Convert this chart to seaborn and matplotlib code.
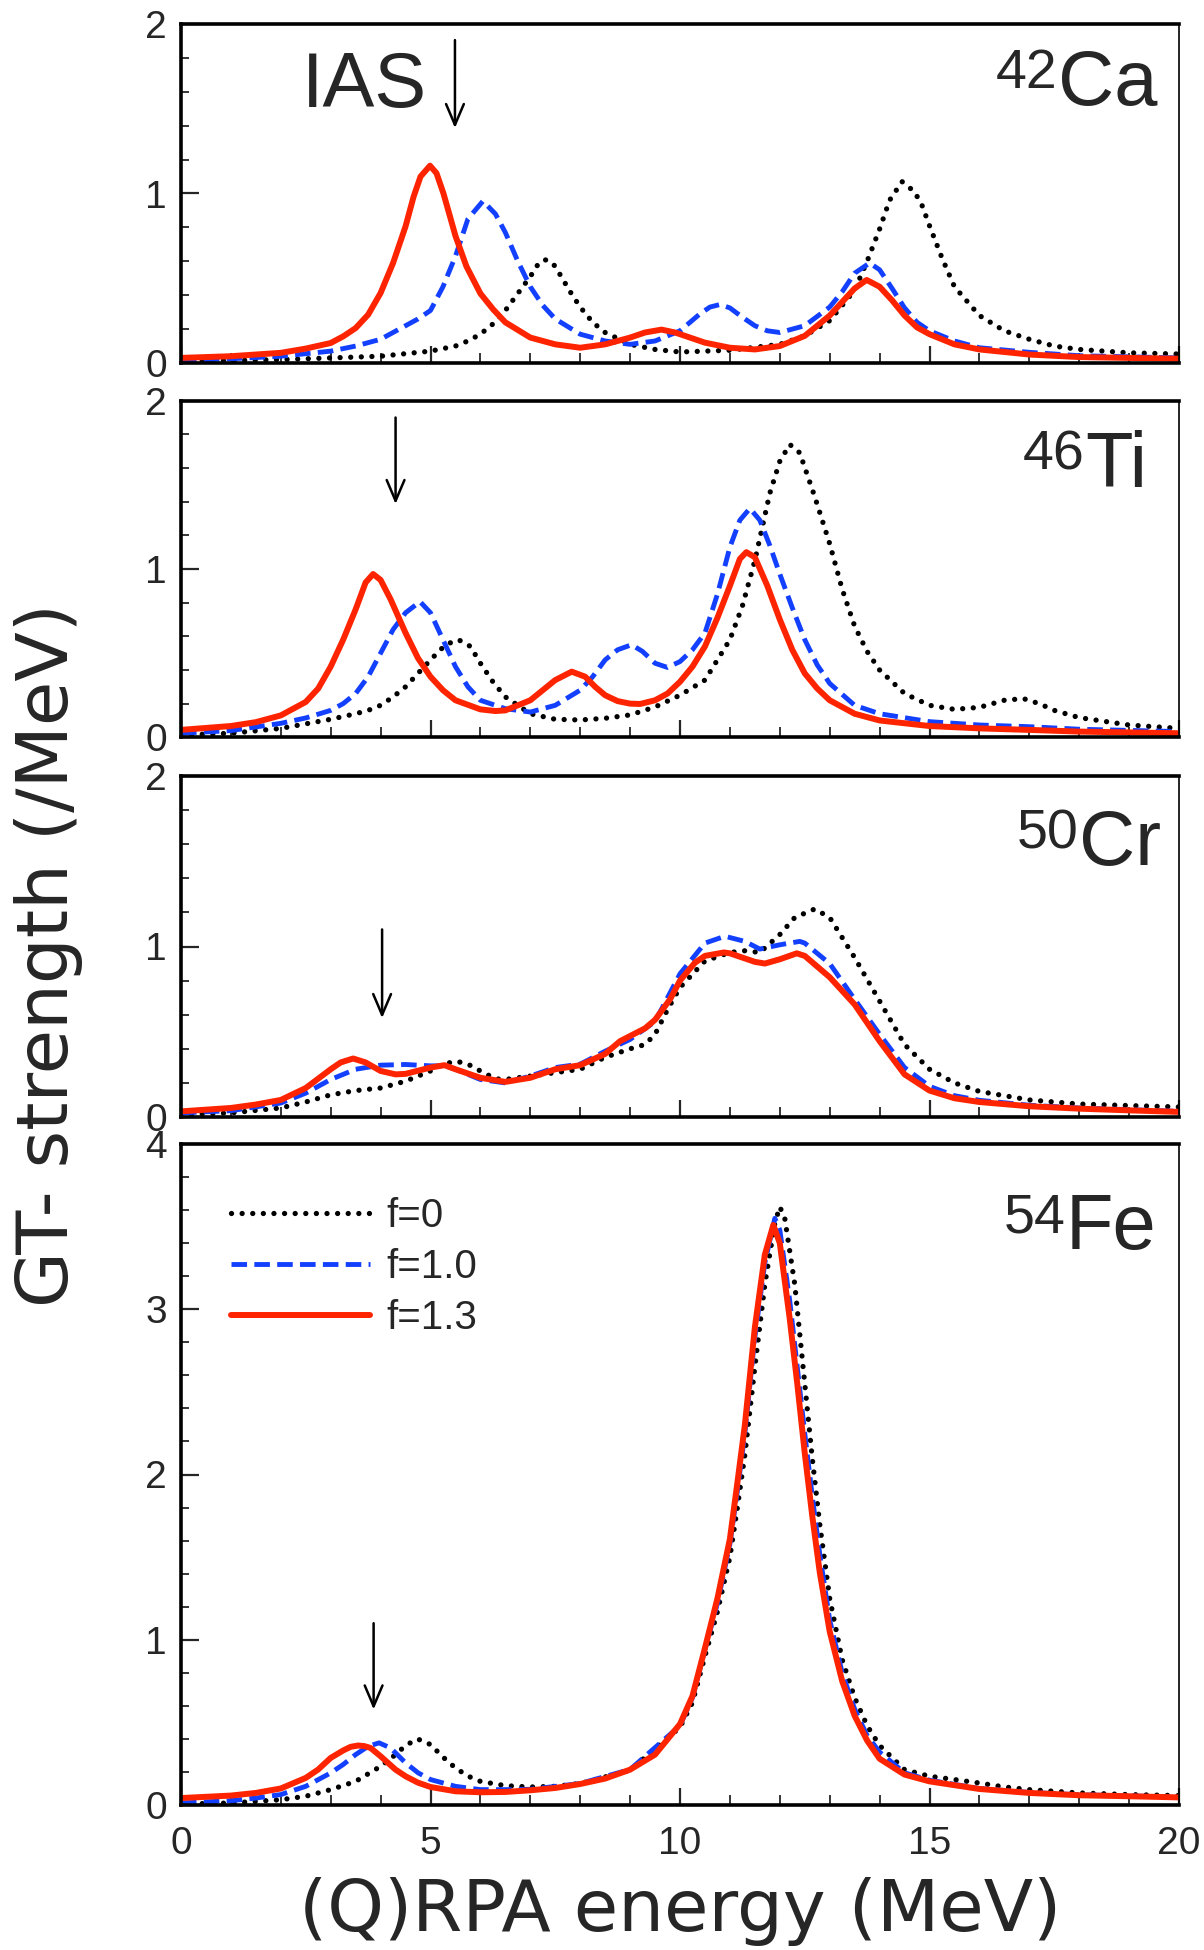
import matplotlib
matplotlib.use("Agg")
import matplotlib.pyplot as plt
from matplotlib.ticker import MultipleLocator
import seaborn as sns
import pandas as pd

sns.set_style("white")
plt.rcParams['font.family'] = ['Liberation Sans', 'DejaVu Sans']

# ---------------- data ----------------
# 42Ca
ca_x0 = [0, 1, 2, 3, 4, 5, 5.5, 5.75, 6, 6.25, 6.5, 6.75, 7.0, 7.15, 7.29, 7.45, 7.6, 7.8, 8.0, 8.25, 8.5, 9, 9.5, 10, 11, 12, 12.5, 13, 13.5, 13.75, 14.0, 14.2, 14.45, 14.7, 14.85, 15.0, 15.25, 15.5, 16, 16.5, 17, 17.5, 18, 19, 20]
ca_y0 = [0.01, 0.015, 0.02, 0.03, 0.04, 0.07, 0.10, 0.13, 0.17, 0.23, 0.31, 0.41, 0.51, 0.58, 0.61, 0.59, 0.52, 0.42, 0.33, 0.24, 0.18, 0.11, 0.08, 0.065, 0.075, 0.11, 0.16, 0.25, 0.43, 0.60, 0.79, 0.96, 1.07, 1.01, 0.93, 0.81, 0.62, 0.45, 0.28, 0.19, 0.14, 0.10, 0.08, 0.06, 0.053]
ca_x1 = [0, 1, 2, 3, 3.5, 4, 4.25, 4.5, 4.75, 5.0, 5.25, 5.5, 5.75, 6.05, 6.3, 6.5, 6.75, 7.0, 7.25, 7.5, 8, 8.5, 9, 9.5, 10, 10.2, 10.4, 10.6, 10.8, 11.0, 11.25, 11.5, 11.75, 12, 12.5, 13, 13.25, 13.5, 13.8, 14.0, 14.25, 14.5, 14.75, 15, 15.5, 16, 17, 18, 20]
ca_y1 = [0.015, 0.025, 0.04, 0.07, 0.10, 0.14, 0.18, 0.22, 0.26, 0.31, 0.45, 0.63, 0.85, 0.955, 0.88, 0.77, 0.60, 0.45, 0.34, 0.26, 0.17, 0.13, 0.11, 0.13, 0.19, 0.24, 0.29, 0.33, 0.345, 0.325, 0.27, 0.22, 0.19, 0.18, 0.22, 0.33, 0.42, 0.53, 0.59, 0.55, 0.44, 0.325, 0.24, 0.19, 0.13, 0.09, 0.063, 0.043, 0.03]
ca_x2 = [0, 1, 1.5, 2, 2.5, 3.0, 3.25, 3.5, 3.75, 4.0, 4.25, 4.5, 4.66, 4.8, 4.99, 5.12, 5.26, 5.39, 5.5, 5.72, 6.0, 6.26, 6.5, 7, 7.5, 8, 8.5, 9.0, 9.3, 9.63, 9.9, 10.2, 10.5, 11, 11.5, 12, 12.5, 13.0, 13.25, 13.5, 13.74, 14.0, 14.25, 14.5, 14.75, 15, 15.5, 16, 17, 18, 20]
ca_y2 = [0.03, 0.04, 0.05, 0.06, 0.085, 0.118, 0.157, 0.206, 0.285, 0.413, 0.59, 0.806, 0.98, 1.10, 1.164, 1.12, 1.0, 0.865, 0.75, 0.57, 0.41, 0.315, 0.24, 0.15, 0.11, 0.09, 0.11, 0.15, 0.18, 0.197, 0.18, 0.15, 0.12, 0.09, 0.08, 0.10, 0.16, 0.28, 0.36, 0.44, 0.49, 0.45, 0.37, 0.28, 0.21, 0.17, 0.11, 0.08, 0.05, 0.035, 0.025]

# 46Ti
ti_x0 = [0, 1, 2, 3, 3.5, 3.75, 4, 4.25, 4.5, 4.75, 5.0, 5.3, 5.56, 5.8, 6.0, 6.25, 6.5, 7, 7.5, 8, 8.5, 9, 9.5, 10, 10.5, 11.0, 11.25, 11.5, 11.8, 12.0, 12.2, 12.4, 12.7, 13.0, 13.25, 13.5, 13.75, 14.0, 14.5, 15, 15.5, 16, 16.5, 16.88, 17.2, 17.5, 18, 19, 20]
ti_y0 = [0.014, 0.024, 0.053, 0.107, 0.14, 0.16, 0.19, 0.24, 0.30, 0.38, 0.46, 0.55, 0.58, 0.54, 0.44, 0.33, 0.24, 0.14, 0.107, 0.103, 0.113, 0.133, 0.18, 0.25, 0.34, 0.58, 0.78, 1.05, 1.45, 1.64, 1.74, 1.69, 1.43, 1.15, 0.88, 0.66, 0.51, 0.40, 0.26, 0.19, 0.166, 0.178, 0.22, 0.23, 0.20, 0.16, 0.117, 0.073, 0.053]
ti_x1 = [0, 1, 2, 2.5, 3, 3.25, 3.5, 3.75, 4.0, 4.25, 4.5, 4.79, 5.0, 5.25, 5.5, 5.75, 6.0, 6.5, 7, 7.5, 8.0, 8.25, 8.5, 8.75, 9.03, 9.25, 9.5, 9.75, 10.0, 10.25, 10.5, 10.75, 11.0, 11.2, 11.4, 11.6, 11.8, 12.0, 12.25, 12.5, 12.75, 13.0, 13.5, 14, 15, 16, 17, 18, 20]
ti_y1 = [0.024, 0.04, 0.083, 0.115, 0.16, 0.20, 0.26, 0.36, 0.50, 0.64, 0.74, 0.806, 0.74, 0.58, 0.42, 0.30, 0.22, 0.17, 0.15, 0.19, 0.28, 0.36, 0.46, 0.52, 0.55, 0.51, 0.44, 0.415, 0.45, 0.52, 0.62, 0.85, 1.13, 1.29, 1.36, 1.29, 1.14, 0.97, 0.77, 0.58, 0.43, 0.32, 0.19, 0.14, 0.093, 0.073, 0.063, 0.048, 0.034]
ti_x2 = [0, 1, 1.5, 2, 2.25, 2.5, 2.75, 3.0, 3.25, 3.5, 3.7, 3.85, 4.0, 4.2, 4.5, 4.75, 5.0, 5.25, 5.5, 6, 6.3, 6.5, 7.0, 7.25, 7.5, 7.83, 8.1, 8.3, 8.5, 8.75, 9.0, 9.2, 9.5, 9.75, 10.0, 10.25, 10.5, 10.75, 11.0, 11.2, 11.33, 11.5, 11.75, 12.0, 12.25, 12.5, 12.75, 13.0, 13.5, 14, 15, 16, 17, 18, 20]
ti_y2 = [0.044, 0.067, 0.09, 0.13, 0.17, 0.21, 0.29, 0.42, 0.58, 0.76, 0.92, 0.97, 0.935, 0.82, 0.62, 0.47, 0.36, 0.28, 0.22, 0.166, 0.156, 0.16, 0.22, 0.28, 0.34, 0.39, 0.36, 0.30, 0.25, 0.215, 0.20, 0.198, 0.22, 0.26, 0.33, 0.42, 0.54, 0.71, 0.90, 1.06, 1.10, 1.07, 0.90, 0.70, 0.52, 0.38, 0.29, 0.22, 0.14, 0.10, 0.067, 0.053, 0.044, 0.034, 0.024]

# 50Cr
cr_x0 = [0, 1, 2, 2.5, 3, 3.5, 4, 4.5, 5, 5.25, 5.52, 5.75, 6, 6.3, 6.5, 7, 7.5, 8, 8.5, 9, 9.3, 9.5, 9.75, 10, 10.5, 11, 11.3, 11.6, 12, 12.3, 12.7, 13, 13.5, 14, 14.5, 15, 15.5, 16, 17, 18, 19, 20]
cr_y0 = [0.014, 0.024, 0.053, 0.088, 0.13, 0.155, 0.17, 0.21, 0.27, 0.31, 0.327, 0.31, 0.27, 0.224, 0.22, 0.24, 0.26, 0.28, 0.35, 0.40, 0.425, 0.485, 0.63, 0.76, 0.915, 0.965, 0.975, 0.965, 1.07, 1.17, 1.22, 1.17, 0.935, 0.68, 0.425, 0.28, 0.20, 0.15, 0.10, 0.076, 0.067, 0.059]
cr_x1 = [0, 1, 2, 2.5, 3, 3.5, 4, 4.5, 5, 5.3, 5.5, 6, 6.5, 7, 7.5, 8, 8.5, 9, 9.5, 9.75, 10, 10.5, 10.9, 11.3, 11.6, 12, 12.4, 12.5, 13, 13.5, 14, 14.5, 15, 15.5, 16, 17, 18, 20]
cr_y1 = [0.024, 0.037, 0.082, 0.14, 0.22, 0.28, 0.304, 0.308, 0.30, 0.30, 0.28, 0.22, 0.20, 0.24, 0.29, 0.31, 0.386, 0.455, 0.56, 0.70, 0.84, 1.02, 1.06, 1.03, 0.985, 1.01, 1.03, 1.02, 0.90, 0.69, 0.485, 0.29, 0.18, 0.125, 0.098, 0.069, 0.053, 0.033]
cr_x2 = [0, 1, 1.5, 2, 2.5, 3, 3.2, 3.45, 3.7, 4, 4.3, 4.5, 5, 5.28, 5.5, 6, 6.5, 7, 7.5, 8, 8.5, 8.8, 9, 9.3, 9.5, 9.8, 10, 10.3, 10.5, 10.88, 11, 11.5, 11.7, 12, 12.34, 12.5, 13, 13.5, 14, 14.5, 15, 15.5, 16, 17, 18, 19, 20]
cr_y2 = [0.033, 0.053, 0.073, 0.10, 0.17, 0.28, 0.32, 0.343, 0.32, 0.27, 0.25, 0.253, 0.29, 0.304, 0.28, 0.23, 0.206, 0.23, 0.28, 0.304, 0.37, 0.445, 0.475, 0.52, 0.57, 0.69, 0.80, 0.905, 0.945, 0.965, 0.96, 0.91, 0.90, 0.925, 0.96, 0.945, 0.82, 0.66, 0.445, 0.25, 0.155, 0.11, 0.088, 0.063, 0.049, 0.039, 0.03]

# 54Fe
fe_x0 = [0, 1, 2, 2.5, 3, 3.5, 4.0, 4.3, 4.5, 4.74, 5.0, 5.25, 5.5, 5.75, 6.0, 6.5, 7, 7.5, 8, 9, 10.0, 10.25, 10.5, 10.75, 11.0, 11.15, 11.3, 11.5, 11.7, 11.9, 12.0, 12.1, 12.3, 12.5, 12.65, 12.8, 13.0, 13.25, 13.5, 13.75, 14.0, 14.5, 15, 15.5, 16, 16.5, 17, 18, 19, 20]
fe_y0 = [0.006, 0.012, 0.032, 0.053, 0.093, 0.143, 0.234, 0.305, 0.36, 0.40, 0.366, 0.29, 0.224, 0.175, 0.143, 0.117, 0.109, 0.113, 0.13, 0.21, 0.47, 0.62, 0.90, 1.17, 1.50, 1.80, 2.12, 2.65, 3.15, 3.52, 3.62, 3.55, 3.15, 2.55, 2.10, 1.70, 1.25, 0.88, 0.65, 0.48, 0.36, 0.214, 0.174, 0.154, 0.133, 0.109, 0.093, 0.073, 0.063, 0.057]
fe_x1 = [0, 1, 1.5, 2, 2.5, 3.0, 3.25, 3.5, 3.75, 3.97, 4.2, 4.5, 4.75, 5.0, 5.5, 6, 6.5, 7, 8, 9, 10.0, 10.25, 10.5, 10.75, 11.0, 11.15, 11.3, 11.5, 11.7, 11.9, 12.0, 12.2, 12.35, 12.5, 12.65, 12.8, 13.0, 13.25, 13.5, 13.75, 14, 14.5, 15, 15.5, 16, 17, 18, 19, 20]
fe_y1 = [0.012, 0.026, 0.042, 0.063, 0.113, 0.194, 0.245, 0.305, 0.355, 0.376, 0.345, 0.255, 0.195, 0.154, 0.113, 0.093, 0.093, 0.095, 0.13, 0.215, 0.48, 0.65, 0.94, 1.22, 1.58, 1.90, 2.25, 2.83, 3.28, 3.55, 3.48, 3.05, 2.65, 2.25, 1.87, 1.52, 1.12, 0.80, 0.58, 0.42, 0.32, 0.195, 0.15, 0.125, 0.10, 0.076, 0.062, 0.055, 0.048]
fe_x2 = [0, 1, 1.5, 2, 2.5, 2.75, 3.0, 3.25, 3.4, 3.55, 3.68, 3.8, 4.0, 4.3, 4.5, 4.75, 5.0, 5.5, 6, 6.5, 7, 7.5, 8, 8.5, 9, 9.5, 10.0, 10.25, 10.5, 10.75, 11.0, 11.15, 11.3, 11.5, 11.7, 11.87, 12.0, 12.2, 12.35, 12.5, 12.65, 12.8, 13.0, 13.25, 13.5, 13.75, 14.0, 14.5, 15, 15.5, 16, 17, 18, 19, 20]
fe_y2 = [0.042, 0.057, 0.073, 0.10, 0.164, 0.215, 0.285, 0.33, 0.352, 0.36, 0.356, 0.345, 0.295, 0.214, 0.174, 0.135, 0.109, 0.083, 0.077, 0.079, 0.089, 0.103, 0.127, 0.16, 0.214, 0.305, 0.49, 0.66, 0.95, 1.25, 1.61, 1.95, 2.30, 2.89, 3.33, 3.51, 3.40, 2.94, 2.55, 2.13, 1.75, 1.41, 1.05, 0.75, 0.54, 0.39, 0.28, 0.184, 0.143, 0.12, 0.097, 0.073, 0.059, 0.053, 0.046]

nuclei = ["42", "46", "50", "54"]
elements = ["Ca", "Ti", "Cr", "Fe"]
ymax = [2, 2, 2, 4]
ias_x = [5.49, 4.30, 4.03, 3.86]
ias_top = [1.905, 1.90, 1.10, 1.10]
ias_tip = [1.386, 1.386, 0.58, 0.578]
labels = ["f=0", "f=1.0", "f=1.3"]
curves = [
    [(ca_x0, ca_y0), (ca_x1, ca_y1), (ca_x2, ca_y2)],
    [(ti_x0, ti_y0), (ti_x1, ti_y1), (ti_x2, ti_y2)],
    [(cr_x0, cr_y0), (cr_x1, cr_y1), (cr_x2, cr_y2)],
    [(fe_x0, fe_y0), (fe_x1, fe_y1), (fe_x2, fe_y2)],
]

# ---------------- styling ----------------
colors = ["black", "#1340ff", "#ff2400"]
styles = [dict(linewidth=3.8, linestyle=(0, (0.01, 2.0)), dash_capstyle="round"),
          dict(linewidth=3.5, linestyle=(0, (3.2, 1.5)), dash_capstyle="butt"),
          dict(linewidth=4.3, linestyle="-", solid_joinstyle="round")]

fig = plt.figure(figsize=(12.04, 19.5), dpi=100)
L, W = 181 / 1204, 998 / 1204
rects = [(24, 363), (400.7, 737.3), (776, 1117), (1144, 1805)]
label_pos = [(0.978, 0.929), (0.968, 0.914), (0.982, 0.906), (0.977, 0.927)]

for i, (top, bot) in enumerate(rects):
    ax = fig.add_axes([L, 1 - bot / 1950, W, (bot - top) / 1950])
    for j, (xs, ys) in enumerate(curves[i]):
        df = pd.DataFrame({"E": xs, "S": ys})
        sns.lineplot(data=df, x="E", y="S", ax=ax, color=colors[j], estimator=None, sort=False,
                     label=labels[j] if i == 3 else None, **styles[j])
    ax.set_xlim(0, 20)
    ax.set_ylim(0, ymax[i])
    ax.set_xlabel("")
    ax.set_ylabel("")
    ax.xaxis.set_major_locator(MultipleLocator(5))
    ax.xaxis.set_minor_locator(MultipleLocator(1))
    ax.yaxis.set_major_locator(MultipleLocator(1))
    ax.yaxis.set_minor_locator(MultipleLocator(0.2))
    ax.tick_params(axis="x", which="major", direction="in", length=12, width=1.6,
                   top=False, bottom=True, labelsize=28, pad=15, labelbottom=(i == 3))
    ax.tick_params(axis="x", which="minor", direction="in", length=7, width=1.3, top=False, bottom=True)
    ax.tick_params(axis="y", which="major", direction="in", length=13, width=1.6,
                   left=True, right=False, labelsize=28, pad=10)
    ax.tick_params(axis="y", which="minor", direction="in", length=6, width=1.3, left=True, right=False)
    for s in ["top", "left", "bottom"]:
        ax.spines[s].set_linewidth(2.6)
        ax.spines[s].set_color("black")
    ax.spines["right"].set_linewidth(1.2)
    ax.spines["right"].set_color("black")

    # nucleus label with superscript mass number
    t = ax.text(label_pos[i][0], label_pos[i][1], elements[i], transform=ax.transAxes,
                ha="right", va="top", fontsize=56)
    ax.annotate(nuclei[i], xy=(0, 1), xycoords=t, ha="right", va="top", fontsize=40)

    # IAS arrow
    ax.annotate("", xy=(ias_x[i], ias_tip[i]), xytext=(ias_x[i], ias_top[i]),
                arrowprops=dict(arrowstyle="->,head_length=0.75,head_width=0.32",
                                lw=1.8, color="black", shrinkA=0, shrinkB=0, mutation_scale=20))
    if i == 0:
        ax.text(2.42, 1.51, "IAS", ha="left", va="baseline", fontsize=56)
    if i == 3:
        ax.legend(loc="upper left", bbox_to_anchor=(0.05, 0.92), frameon=False, fontsize=29,
                  handlelength=3.45, handletextpad=0.4, labelspacing=0.32, borderpad=0,
                  borderaxespad=0)

fig.text(0.5648, 0.0195, "(Q)RPA energy (MeV)", ha="center", va="center", fontsize=52,
         family=["DejaVu Sans"])
fig.text(0.040, 0.5103, "GT- strength (/MeV)", ha="center", va="center", rotation=90,
         fontsize=52, family=["DejaVu Sans"])

fig.savefig("out.png", dpi=100, facecolor="white")
